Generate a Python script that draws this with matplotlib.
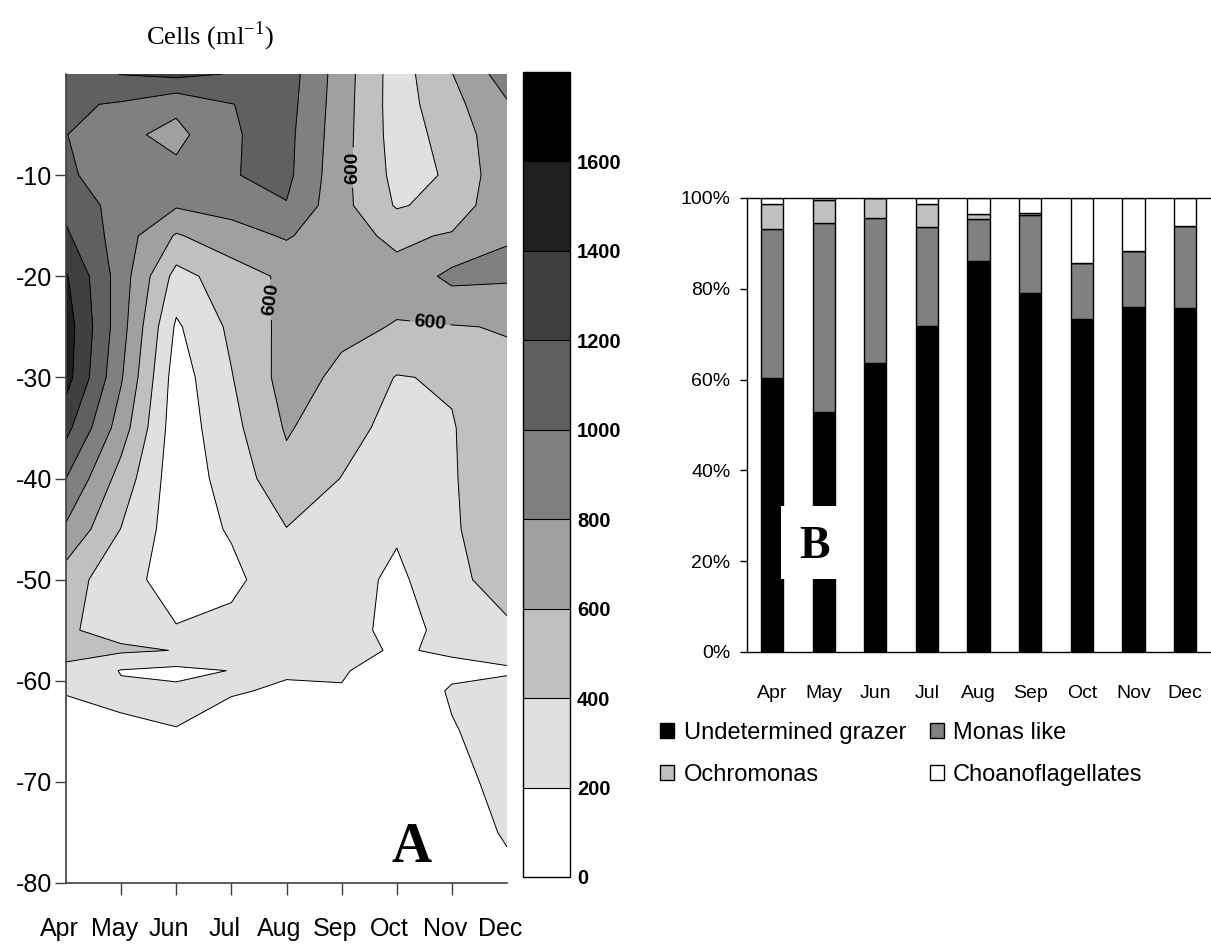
import numpy as np
import matplotlib.pyplot as plt
import matplotlib.transforms as mtransforms
from matplotlib.patches import Patch, Rectangle

plt.rcParams['font.family'] = ['Liberation Sans', 'DejaVu Sans']
plt.rcParams['axes.unicode_minus'] = False
plt.rcParams['mathtext.fontset'] = 'custom'
plt.rcParams['mathtext.rm'] = 'Liberation Serif'

# Meses amostrados
meses = ['Apr', 'May', 'Jun', 'Jul', 'Aug', 'Sep', 'Oct', 'Nov', 'Dec']

# Profundidade de cada linha da grade (m)
profundidade = [0, -3, -6, -10, -13, -16, -20, -25, -30, -35, -40, -45,
                -50, -55, -57, -59, -61, -65, -70, -75, -80]

# Celulas por ml: uma linha por profundidade, uma coluna por mes
celulas = [
    [1100, 1205, 1250, 1190, 1100, 700, 300, 595, 900],
    [1030, 980, 850, 995, 1080, 690, 300, 540, 780],
    [1005, 850, 740, 985, 1060, 680, 310, 470, 760],
    [1030, 900, 860, 990, 1050, 660, 340, 420, 760],
    [1150, 910, 820, 870, 990, 660, 380, 470, 770],
    [1230, 900, 580, 720, 820, 670, 560, 620, 790],
    [1420, 900, 330, 500, 640, 680, 660, 850, 830],
    [1500, 880, 170, 440, 660, 640, 590, 590, 610],
    [1480, 820, 100, 390, 680, 560, 390, 420, 560],
    [1260, 700, 80, 340, 620, 480, 330, 388, 540],
    [1000, 520, 80, 280, 540, 395, 280, 385, 520],
    [770, 395, 90, 220, 395, 330, 230, 380, 500],
    [500, 260, 130, 150, 330, 300, 150, 370, 450],
    [420, 340, 210, 260, 270, 290, 130, 260, 380],
    [440, 430, 395, 250, 240, 230, 190, 215, 230],
    [370, 190, 150, 205, 212, 215, 120, 170, 190],
    [210, 230, 240, 210, 185, 190, 100, 215, 230],
    [120, 175, 195, 140, 120, 120, 90, 190, 260],
    [90, 120, 120, 90, 90, 90, 80, 160, 240],
    [70, 90, 90, 70, 70, 70, 70, 100, 220],
    [60, 70, 70, 60, 60, 60, 60, 80, 150],
]

niveis = list(range(0, 2000, 200))
cores = ['#ffffff', '#e0e0e0', '#c0c0c0', '#a0a0a0', '#808080',
         '#606060', '#404040', '#202020', '#000000']

# Composicao dos flagelados (%)
indeterminado = [60.4, 52.8, 63.7, 71.7, 86.2, 79.1, 73.3, 76.1, 75.8]
monas = [32.8, 41.8, 31.8, 22.0, 9.2, 17.2, 12.4, 12.3, 18.0]
ochromonas = [5.4, 4.9, 4.5, 4.9, 1.0, 0.5, 0.0, 0.0, 0.0]
choano = [1.4, 0.5, 0.0, 1.4, 3.6, 3.2, 14.3, 11.6, 6.2]

W, H = 1211, 950
fig = plt.figure(figsize=(W / 100, H / 100), dpi=100)

# ---- Painel A: contorno ----
ax = fig.add_axes([66 / W, 1 - 883 / H, 441 / W, 809 / H])
x = np.arange(len(meses))
y = np.array(profundidade)
z = np.array(celulas)
cf = ax.contourf(x, y, z, levels=niveis, colors=cores)
linhas = [v for v in niveis[1:-1] if v != 600]
ax.contour(x, y, z, levels=linhas, colors='black', linewidths=0.7)
# a isolinha de 600 leva rotulos
cs600 = ax.contour(x, y, z, levels=[600], colors='black', linewidths=0.7)
rot = ax.clabel(cs600, manual=[(4.99, -9.2), (3.83, -22.3), (6.6, -25.0)],
                fmt='%d', fontsize=14, inline=True, inline_spacing=4, colors='black')
for t in rot:
    t.set_fontweight('bold')
    px, py = t.get_position()
    if abs(px - 3.8) < 0.5:
        t.set_rotation(82)
    elif abs(px - 5.0) < 0.5:
        t.set_rotation(90)

ax.set_yticks(range(-80, 0, 10))
ax.tick_params(axis='y', labelsize=18, length=8, width=1, pad=2, color='#404040')
ax.set_xticks(x)
ax.set_xticklabels(meses)
ax.tick_params(axis='x', length=8.5, width=1, color='#404040', labelsize=18, pad=16)
# sem marca nas extremidades
for i in (0, len(meses) - 1):
    ax.xaxis.get_major_ticks()[i].tick1line.set_visible(False)
desloc = mtransforms.ScaledTranslation(-7 / 100, 0, fig.dpi_scale_trans)
for rotulo in ax.get_xticklabels():
    rotulo.set_transform(rotulo.get_transform() + desloc)
ax.set_xlim(0, 8)
ax.set_ylim(-80, 0)
for lado in ['top', 'right']:
    ax.spines[lado].set_visible(False)
for lado in ['left', 'bottom']:
    ax.spines[lado].set_color('#404040')
    ax.spines[lado].set_linewidth(1.2)
ax.text(6.26, -77.9, 'A', family='Liberation Serif', fontweight='bold',
        fontsize=40, ha='center', va='baseline')

fig.text(210 / W, 1 - 36 / H, 'Cells (ml$^{\\rm{-1}}$)', family='Liberation Serif',
         fontsize=19, ha='center', va='center')

# Barra de cores
cax = fig.add_axes([523 / W, 1 - 877 / H, 47 / W, 805 / H])
cb = fig.colorbar(cf, cax=cax, ticks=range(0, 1601, 200), drawedges=True)
cb.outline.set_linewidth(1)
cb.outline.set_edgecolor('black')
cb.dividers.set_color('black')
cb.dividers.set_linewidth(0.8)
cb.ax.tick_params(length=0, labelsize=14.5, pad=5)
for t in cb.ax.get_yticklabels():
    t.set_fontweight('bold')

# ---- Painel B: barras empilhadas ----
bx = fig.add_axes([747 / W, 1 - 652 / H, (W - 747) / W, 454 / H])
pos = np.arange(len(meses))
larg = 0.43
base = np.zeros(len(meses))
series = [(indeterminado, 'black', 'Undetermined grazer'),
          (monas, '#808080', 'Monas like'),
          (ochromonas, '#c0c0c0', 'Ochromonas'),
          (choano, 'white', 'Choanoflagellates')]
for valores, cor, nome in series:
    bx.bar(pos, valores, larg, bottom=base, color=cor, edgecolor='black',
           linewidth=1, label=nome, zorder=2)
    base = base + np.array(valores)

bx.set_yticks(range(0, 101, 20))
bx.set_yticklabels([f'{v}%' for v in range(0, 101, 20)])
bx.set_xticks(pos)
bx.set_xticklabels(meses)
bx.set_xlim(-0.484, 8.5)
bx.set_ylim(0, 100)
bx.tick_params(axis='y', labelsize=14, length=5, width=1, pad=7)
bx.tick_params(axis='x', labelsize=14, length=0, pad=24)
bx.spines['right'].set_visible(False)
for lado in ['left', 'bottom', 'top']:
    bx.spines[lado].set_linewidth(1)

bx.add_patch(Rectangle((0.18, 16.1), 1.07, 16.1, facecolor='white',
                       edgecolor='none', zorder=3))
bx.text(0.82, 20.7, 'B', family='Liberation Serif', fontweight='bold',
        fontsize=33, ha='center', va='baseline', zorder=4)

# Legenda em duas colunas
alcas = [Patch(facecolor=c, edgecolor='black', linewidth=1) for _, c, _ in series]
nomes = [n for _, _, n in series]
ordem = [0, 2, 1, 3]
fig.legend([alcas[i] for i in ordem], [nomes[i] for i in ordem], ncol=2,
           loc='upper left', bbox_to_anchor=(660 / W, 1 - 722 / H),
           frameon=False, fontsize=17, handlelength=0.6, handleheight=0.6,
           handletextpad=0.4, columnspacing=1.0, labelspacing=0.85,
           borderpad=0, borderaxespad=0)

fig.savefig('out.png', dpi=100)
